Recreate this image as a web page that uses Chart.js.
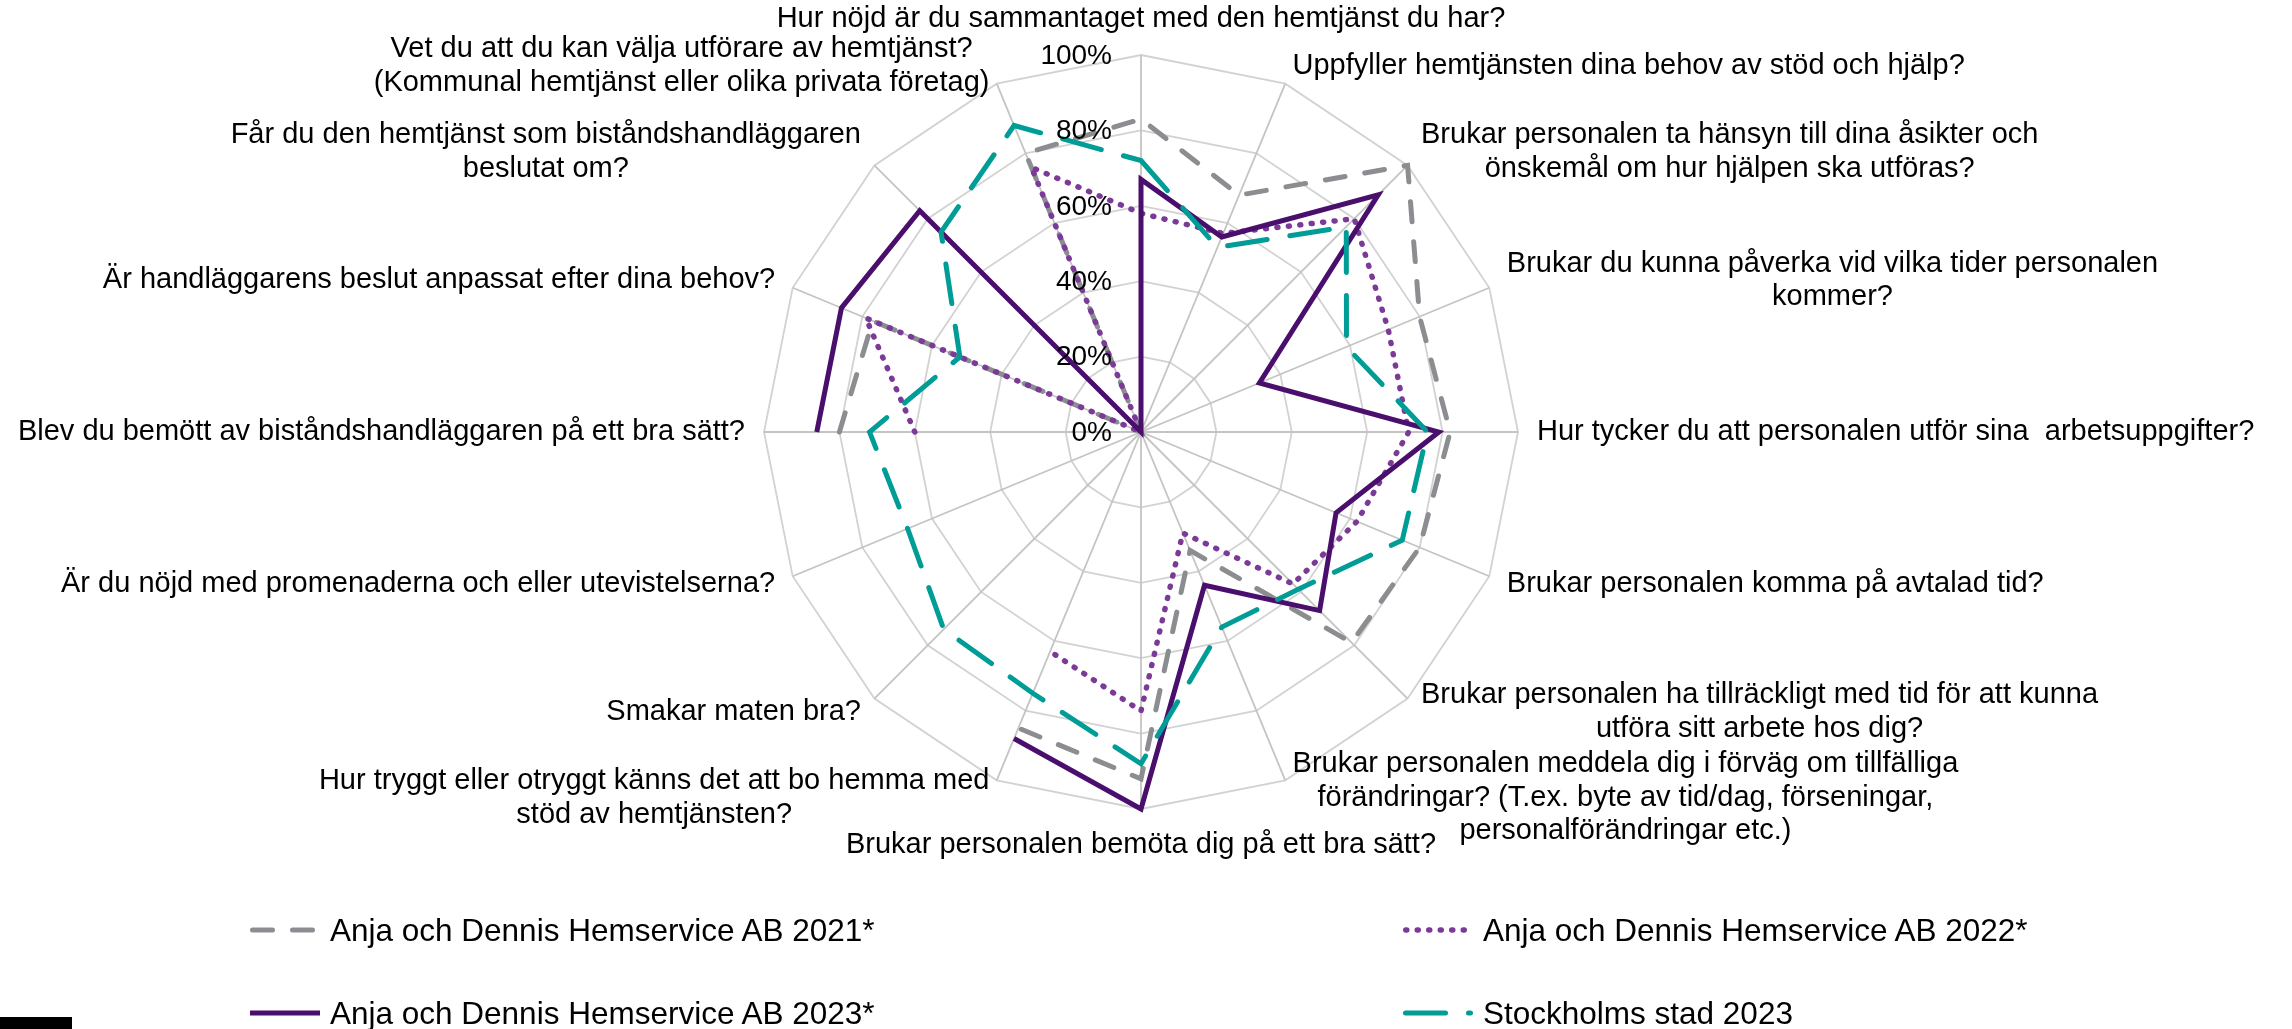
<!DOCTYPE html>
<html lang="sv">
<head>
    <meta charset="UTF-8">
    <title>Brukarbedömning hemtjänst</title>
    <script src="https://cdn.jsdelivr.net/npm/chart.js"></script>
    <style>
        body { margin: 0; background: #fff; }
        #wrap { position: relative; width: 2292px; height: 1029px; overflow: hidden; font-family: "Liberation Sans", Arial, sans-serif; }
        #radar { position: absolute; left: 0; top: 0; }
        .leg { position: absolute; display: flex; align-items: center; font-size: 31.5px; color: #000; white-space: nowrap; }
        .leg svg { margin-right: 8px; }
        #logo { position: absolute; left: 0; top: 1017px; width: 72px; height: 12px; background: #000; }
    </style>
</head>
<body>
<div id="wrap">
    <canvas id="radar" width="2292" height="1029"></canvas>
    <div id="legend"></div>
    <div id="logo"></div>
</div>

<script>
const categories = [
    'Hur nöjd är du sammantaget med den hemtjänst du har?',
    'Uppfyller hemtjänsten dina behov av stöd och hjälp?',
    ['Brukar personalen ta hänsyn till dina åsikter och', 'önskemål om hur hjälpen ska utföras?'],
    ['Brukar du kunna påverka vid vilka tider personalen', 'kommer?'],
    'Hur tycker du att personalen utför sina  arbetsuppgifter?',
    'Brukar personalen komma på avtalad tid?',
    ['Brukar personalen ha tillräckligt med tid för att kunna', 'utföra sitt arbete hos dig?'],
    ['Brukar personalen meddela dig i förväg om tillfälliga', 'förändringar? (T.ex. byte av tid/dag, förseningar,', 'personalförändringar etc.)'],
    'Brukar personalen bemöta dig på ett bra sätt?',
    ['Hur tryggt eller otryggt känns det att bo hemma med', 'stöd av hemtjänsten?'],
    'Smakar maten bra?',
    'Är du nöjd med promenaderna och eller utevistelserna?',
    'Blev du bemött av biståndshandläggaren på ett bra sätt?',
    'Är handläggarens beslut anpassat efter dina behov?',
    ['Får du den hemtjänst som biståndshandläggaren', 'beslutat om?'],
    ['Vet du att du kan välja utförare av hemtjänst?', '(Kommunal hemtjänst eller olika privata företag)']
];

// andel nöjda, procent (null = fråga saknas)
const values2021 = [83, 68, 100, 80, 82, 80, 79, 34, 92, 85, null, null, 80, 77, 0, 80];
const values2022 = [58, 57, 80, 71, 71, 62, 57, 29, 74, 63, null, null, 60, 79, 0, 76];
const values2023 = [67, 56, 89, 34, 79, 56, 67, 44, 100, 88, null, null, 86, 86, 83, 0];
const valuesStockholm = [72, 53, 77, 59, 76, 75, 59, 56, 88, 75, 74, 67, 72, 52, 75, 88];

const seriesNames = [
    'Anja och Dennis Hemservice AB 2021*',
    'Anja och Dennis Hemservice AB 2022*',
    'Anja och Dennis Hemservice AB 2023*',
    'Stockholms stad 2023'
];
const tickValues = [0, 20, 40, 60, 80, 100];

const FONT = '"Liberation Sans", Arial, sans-serif';

// draws category labels and percent ticks roughly the way Excel places them
const excelLabels = {
    id: 'excelLabels',
    afterDatasetsDraw(chart) {
        const scale = chart.scales.r;
        const ctx = chart.ctx;
        const n = chart.data.labels.length;
        const lineH = 33.5;
        ctx.save();
        ctx.fillStyle = '#000';
        ctx.textBaseline = 'middle';

        ctx.font = '29px ' + FONT;
        chart.data.labels.forEach((label, i) => {
            const lines = Array.isArray(label) ? label : [label];
            const angle = Math.round(i * 360 / n);
            const p = scale.getPointPosition(i, scale.drawingArea + 19);
            const w = Math.max(...lines.map(l => ctx.measureText(l).width));
            const h = lines.length * lineH;
            let left = angle === 0 || angle === 180 ? p.x - w / 2 : (angle < 180 ? p.x : p.x - w);
            let top = angle === 0 ? p.y - h : (angle === 180 ? p.y : p.y - h / 2);
            ctx.textAlign = 'center';
            lines.forEach((l, k) => ctx.fillText(l, left + w / 2, top + lineH * (k + 0.5)));
        });

        ctx.font = '28px ' + FONT;
        ctx.textAlign = 'right';
        tickValues.forEach(v => {
            const y = scale.yCenter - scale.getDistanceFromCenterForValue(v);
            ctx.fillText(v + '%', scale.xCenter - 29, y + 1);
        });
        ctx.restore();
    }
};

const styles = [
    { color: '#8b8d90', dash: [20, 20], width: 5, cap: 'round', order: 4 },
    { color: '#7b3a98', dash: [1, 10.5], width: 5.5, cap: 'round', order: 3 },
    { color: '#4a0e6c', dash: [], width: 5, cap: 'butt', order: 2 },
    { color: '#009c96', dash: [40, 23], width: 5, cap: 'round', order: 1 }
];
const allValues = [values2021, values2022, values2023, valuesStockholm];

const datasets = allValues.map((vals, i) => ({
    label: seriesNames[i],
    data: vals,
    borderColor: styles[i].color,
    backgroundColor: 'transparent',
    borderWidth: styles[i].width,
    borderDash: styles[i].dash,
    borderCapStyle: styles[i].cap,
    borderJoinStyle: 'miter',
    pointRadius: 0,
    pointHoverRadius: 0,
    fill: false,
    spanGaps: false,
    order: styles[i].order
}));

const ctx = document.getElementById('radar').getContext('2d');
const chart = new Chart(ctx, {
    type: 'radar',
    data: { labels: categories, datasets: datasets },
    options: {
        responsive: false,
        animation: false,
        layout: { padding: { left: 764, right: 774, top: 55, bottom: 220 } },
        plugins: { legend: { display: false }, tooltip: { enabled: false } },
        scales: {
            r: {
                min: 0,
                max: 100,
                ticks: { stepSize: 20, display: false },
                pointLabels: { display: false },
                grid: { color: '#d2d2d2', lineWidth: 1.8 },
                angleLines: { color: '#c4c4c4', lineWidth: 1.8 }
            }
        }
    },
    plugins: [excelLabels]
});

// legend, two columns like the original
const legendPos = [
    { x: 250, y: 930 },
    { x: 1403, y: 930 },
    { x: 250, y: 1013 },
    { x: 1403, y: 1013 }
];
const legendEl = document.getElementById('legend');
seriesNames.forEach((name, k) => {
    const st = styles[k];
    const item = document.createElement('div');
    item.className = 'leg';
    item.style.left = legendPos[k].x + 'px';
    item.style.top = (legendPos[k].y - 20) + 'px';
    item.style.height = '40px';
    const pad = st.cap === 'round' ? st.width / 2 : 0;
    item.innerHTML =
        '<svg width="72" height="12"><line x1="' + pad + '" y1="6" x2="' + (70 - pad) + '" y2="6" stroke="' + st.color +
        '" stroke-width="' + st.width + '" stroke-linecap="' + st.cap + '" stroke-dasharray="' + st.dash.join(' ') + '"/></svg>' +
        '<span>' + name + '</span>';
    legendEl.appendChild(item);
});
</script>
</body>
</html>
